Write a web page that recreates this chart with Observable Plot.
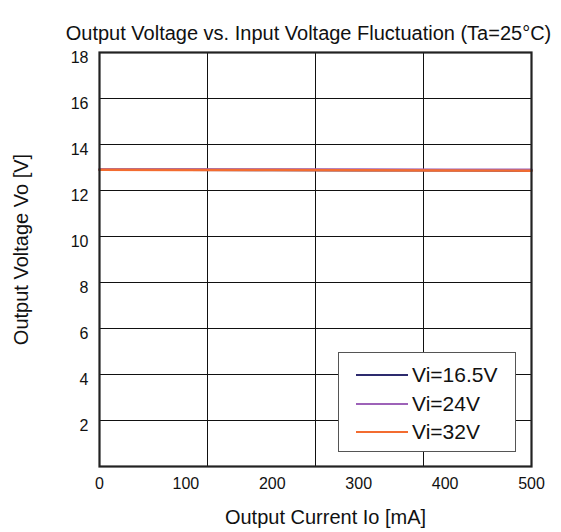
<!DOCTYPE html>
<html>
<head>
<meta charset="utf-8">
<script src="https://cdn.jsdelivr.net/npm/d3@7"></script>
<script src="https://cdn.jsdelivr.net/npm/@observablehq/plot@0.6"></script>
<style>
  html, body { margin: 0; padding: 0; background: #fff; }
  #wrap { position: relative; width: 561px; height: 532px; font-family: "Liberation Sans", Arial, Helvetica, sans-serif; }
  #legend { position: absolute; left: 338px; top: 352px; width: 176px; height: 98px; border: 1.5px solid #555; background: #fff; }
  .row { position: absolute; left: 0; height: 28px; display: flex; align-items: center; }
  .sw { width: 52px; height: 0; border-top: 2.6px solid; margin-left: 17px; margin-right: 4px; }
  .lab { font-size: 21px; color: #111; }
</style>
</head>
<body>
<div id="wrap"></div>
<script>
const current = [0, 100, 200, 300, 400, 500];
const vi165 = [12.90, 12.90, 12.89, 12.88, 12.88, 12.87];
const vi24  = [12.92, 12.92, 12.91, 12.91, 12.90, 12.90];
const vi32  = [12.90, 12.89, 12.89, 12.88, 12.87, 12.86];
const seriesNames = ["Vi=16.5V", "Vi=24V", "Vi=32V"];
const seriesColors = ["#2d2b6e", "#9d62b8", "#f36c30"];
const xTicks = [0, 100, 200, 300, 400, 500];
const xGrid = [125, 250, 375];
const yTicks = [2, 4, 6, 8, 10, 12, 14, 16, 18];
const yGrid = [2, 4, 6, 8, 10, 12, 14, 16];
const titleText = "Output Voltage vs. Input Voltage Fluctuation (Ta=25\u00B0C)";
const xLabel = "Output Current Io [mA]";
const yLabel = "Output Voltage Vo [V]";

const seriesValues = [vi165, vi24, vi32];
const data = [];
seriesNames.forEach((name, s) => {
  current.forEach((c, i) => data.push({series: name, current: c, vo: seriesValues[s][i]}));
});

const chart = Plot.plot({
  width: 561,
  height: 532,
  marginLeft: 99,
  marginRight: 30,
  marginTop: 52,
  marginBottom: 66,
  x: {domain: [0, 500]},
  y: {domain: [0, 18]},
  color: {domain: seriesNames, range: seriesColors},
  style: {fontFamily: "'Liberation Sans', Arial, Helvetica, sans-serif", background: "#fff", color: "#111"},
  marks: [
    Plot.gridX(xGrid, {stroke: "#111", strokeOpacity: 1, strokeWidth: 1}),
    Plot.gridY(yGrid, {stroke: "#111", strokeOpacity: 1, strokeWidth: 1}),
    Plot.line(data, {x: "current", y: "vo", z: "series", stroke: "series", strokeWidth: 2.4}),
    Plot.frame({stroke: "#222", strokeWidth: 2.2}),
    Plot.axisX(xTicks, {tickSize: 0, tickPadding: 11, fontSize: 16, label: null, fill: "#111"}),
    Plot.axisY(yTicks, {tickSize: 0, tickPadding: 11, fontSize: 16, label: null, dy: 5, fill: "#111"}),
    Plot.text([titleText], {frameAnchor: "top", dx: -7, dy: -27, fontSize: 20, fill: "#111"}),
    Plot.text([xLabel], {frameAnchor: "bottom", dx: 10, dy: 57, fontSize: 20, fill: "#111"}),
    Plot.text([yLabel], {frameAnchor: "left", textAnchor: "middle", dx: -78, dy: -10, rotate: -90, fontSize: 20, fill: "#111"})
  ]
});
const wrap = document.getElementById("wrap");
wrap.appendChild(chart);

const legend = document.createElement("div");
legend.id = "legend";
seriesNames.forEach((name, i) => {
  const row = document.createElement("div");
  row.className = "row";
  row.style.top = (8 + i * 28.5) + "px";
  const sw = document.createElement("div");
  sw.className = "sw";
  sw.style.borderTopColor = seriesColors[i];
  const lab = document.createElement("span");
  lab.className = "lab";
  lab.textContent = name;
  row.appendChild(sw);
  row.appendChild(lab);
  legend.appendChild(row);
});
wrap.appendChild(legend);
</script>
</body>
</html>
